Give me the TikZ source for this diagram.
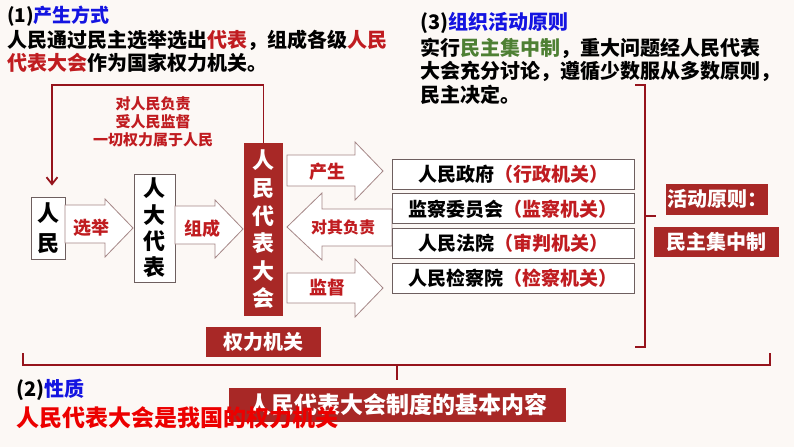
\documentclass[tikz,border=0pt]{standalone}
\usepackage{fontspec}
\setmainfont{Noto Sans CJK SC}
\usetikzlibrary{arrows.meta,positioning}
\definecolor{boxred}{RGB}{168,40,38}
\definecolor{textred}{RGB}{192,28,32}
\definecolor{linered}{RGB}{150,20,28}
\definecolor{brightred}{RGB}{236,0,0}
\definecolor{headblue}{RGB}{20,20,225}
\definecolor{darkgreen}{RGB}{78,128,52}
\definecolor{arrowgrey}{RGB}{165,135,135}
\definecolor{boxgrey}{RGB}{110,95,95}
\definecolor{bgpaper}{RGB}{252,248,245}
\newcommand{\fsz}[1]{\fontsize{#1}{#1}\selectfont}

\begin{document}
\begin{tikzpicture}[x=1pt,y=1pt,node distance=4pt,
    wbox/.style={rectangle,draw=boxgrey,fill=white,line width=0.8pt,inner sep=0pt,align=center},
    rbox/.style={rectangle,fill=boxred,text=white,inner sep=0pt,align=center},
    org/.style={wbox,minimum width=242pt,minimum height=30pt,font=\bfseries\fsz{19}},
    barr/.style={draw=arrowgrey,fill=white,line width=0.8pt},
    lbl/.style={text=textred,font=\bfseries\fsz{18},inner sep=0pt},
    txt/.style={anchor=west,inner sep=0pt,font=\bfseries\fsz{20},align=left},
    brk/.style={linered,line width=1.8pt},
    fb/.style={linered,line width=1.8pt,-{Straight Barb[length=7pt,width=11pt]}}]
    \fill[bgpaper] (0,0) rectangle (794,-447);
    \useasboundingbox (0,0) rectangle (794,-447);
    % headings
    \node[txt,font=\bfseries\fsz{19}] (h1) at (7,-16) {(1)\textcolor{headblue}{产生方式}};
    \node[txt,anchor=north west,font=\bfseries\fontsize{20}{23}\selectfont] (p1) at (7,-30)
      {人民通过民主选举选出\textcolor{textred}{代表}，组成各级\textcolor{textred}{人民}\\
       \textcolor{textred}{代表大会}作为国家权力机关。};
    \node[txt] (h3) at (420,-23) {(3)\textcolor{headblue}{组织活动原则}};
    \node[txt,anchor=north west,font=\bfseries\fontsize{20}{23.3}\selectfont] (p3) at (420,-38)
      {实行\textcolor{darkgreen}{民主集中制}，重大问题经人民代表\\
       大会充分讨论，遵循少数服从多数原则，\\
       民主决定。};
    % chain
    \node[wbox,minimum width=34pt,minimum height=62pt,font=\bfseries\fontsize{22}{30}\selectfont] (rm) at (48,-228) {人\\民};
    \node[wbox,minimum width=41pt,minimum height=108pt,font=\bfseries\fontsize{22}{26.3}\selectfont] (dbs) at (154.5,-228) {人\\大\\代\\表};
    \draw[barr] (65,-205) -- (105,-205) -- (105,-199) -- (133,-228) -- (105,-257) -- (105,-243) -- (65,-243) -- cycle;
    \draw[barr] (175,-206) -- (215,-206) -- (215,-200) -- (243,-229) -- (215,-258) -- (215,-244) -- (175,-244) -- cycle;
    \node[lbl] (xj) at (91,-228) {选举};
    \node[lbl] (zc) at (202,-229) {组成};
    \draw[barr] (287,-155) -- (355,-155) -- (355,-142) -- (383,-171) -- (355,-200) -- (355,-186) -- (287,-186) -- cycle;
    \draw[barr] (287,-227) -- (322,-193) -- (322,-209) -- (392,-209) -- (392,-246) -- (322,-246) -- (322,-260) -- cycle;
    \draw[barr] (287,-273) -- (355,-273) -- (355,-259) -- (383,-288) -- (355,-317) -- (355,-303) -- (287,-303) -- cycle;
    \node[lbl] (cs) at (327,-172) {产生};
    \node[lbl,font=\bfseries\fsz{16}] (dqfz) at (343,-227) {对其负责};
    \node[lbl] (jd) at (327,-288) {监督};
    \node[rbox,minimum width=39pt,minimum height=173pt,font=\bfseries\fontsize{22}{27.6}\selectfont] (rd) at (263.5,-229.5) {人\\民\\代\\表\\大\\会};
    \node[rbox,minimum width=115pt,minimum height=30pt,font=\bfseries\fsz{20}] (qljg) at (263.5,-342) {权力机关};
    % state organs
    \node[org] (zf) at (513,-174) {人民政府\textcolor{textred}{（行政机关）}};
    \node[org,below=of zf] (jcw) {监察委员会\textcolor{textred}{（监察机关）}};
    \node[org,below=of jcw] (fy) {人民法院\textcolor{textred}{（审判机关）}};
    \node[org,below=of fy] (jcy) {人民检察院\textcolor{textred}{（检察机关）}};
    % feedback
    \coordinate (fbtop) at (52,-85);
    \draw[fb,shorten >=11pt] (rd.north) |- (fbtop) -- (fbtop |- rm.north);
    \node[align=center,text=textred,inner sep=0pt,font=\bfseries\fontsize{15}{18}\selectfont] (duty) at (153,-122)
      {对人民负责\\受人民监督\\一切权力属于人民};
    % principle
    \draw[brk] (635,-85) -- (645,-85) -- (645,-347) -- (635,-347);
    \draw[brk] (645,-216) -- (656,-216);
    \node[rbox,minimum width=102pt,minimum height=31pt,font=\bfseries\fsz{20}] (hdyz) at (717,-199) {活动原则：};
    \node[rbox,minimum width=125pt,minimum height=30pt,font=\bfseries\fsz{20}] (mzjz) at (716.5,-241.5) {民主集中制};
    % bottom
    \draw[brk] (23,-353) -- (23,-365) -- (770,-365) -- (770,-353);
    \draw[brk] (397,-365) -- (397,-380);
    \node[rbox,minimum width=337pt,minimum height=34pt,font=\bfseries\fsz{23}] (jbnr) at (397.5,-405) {人民代表大会制度的基本内容};
    \node[txt] (h2) at (16,-390) {(2)\textcolor{headblue}{性质}};
    \node[txt,text=brightred,font=\bfseries\fsz{23}] (xz) at (16,-418) {人民代表大会是我国的权力机关};
\end{tikzpicture}
\end{document}
